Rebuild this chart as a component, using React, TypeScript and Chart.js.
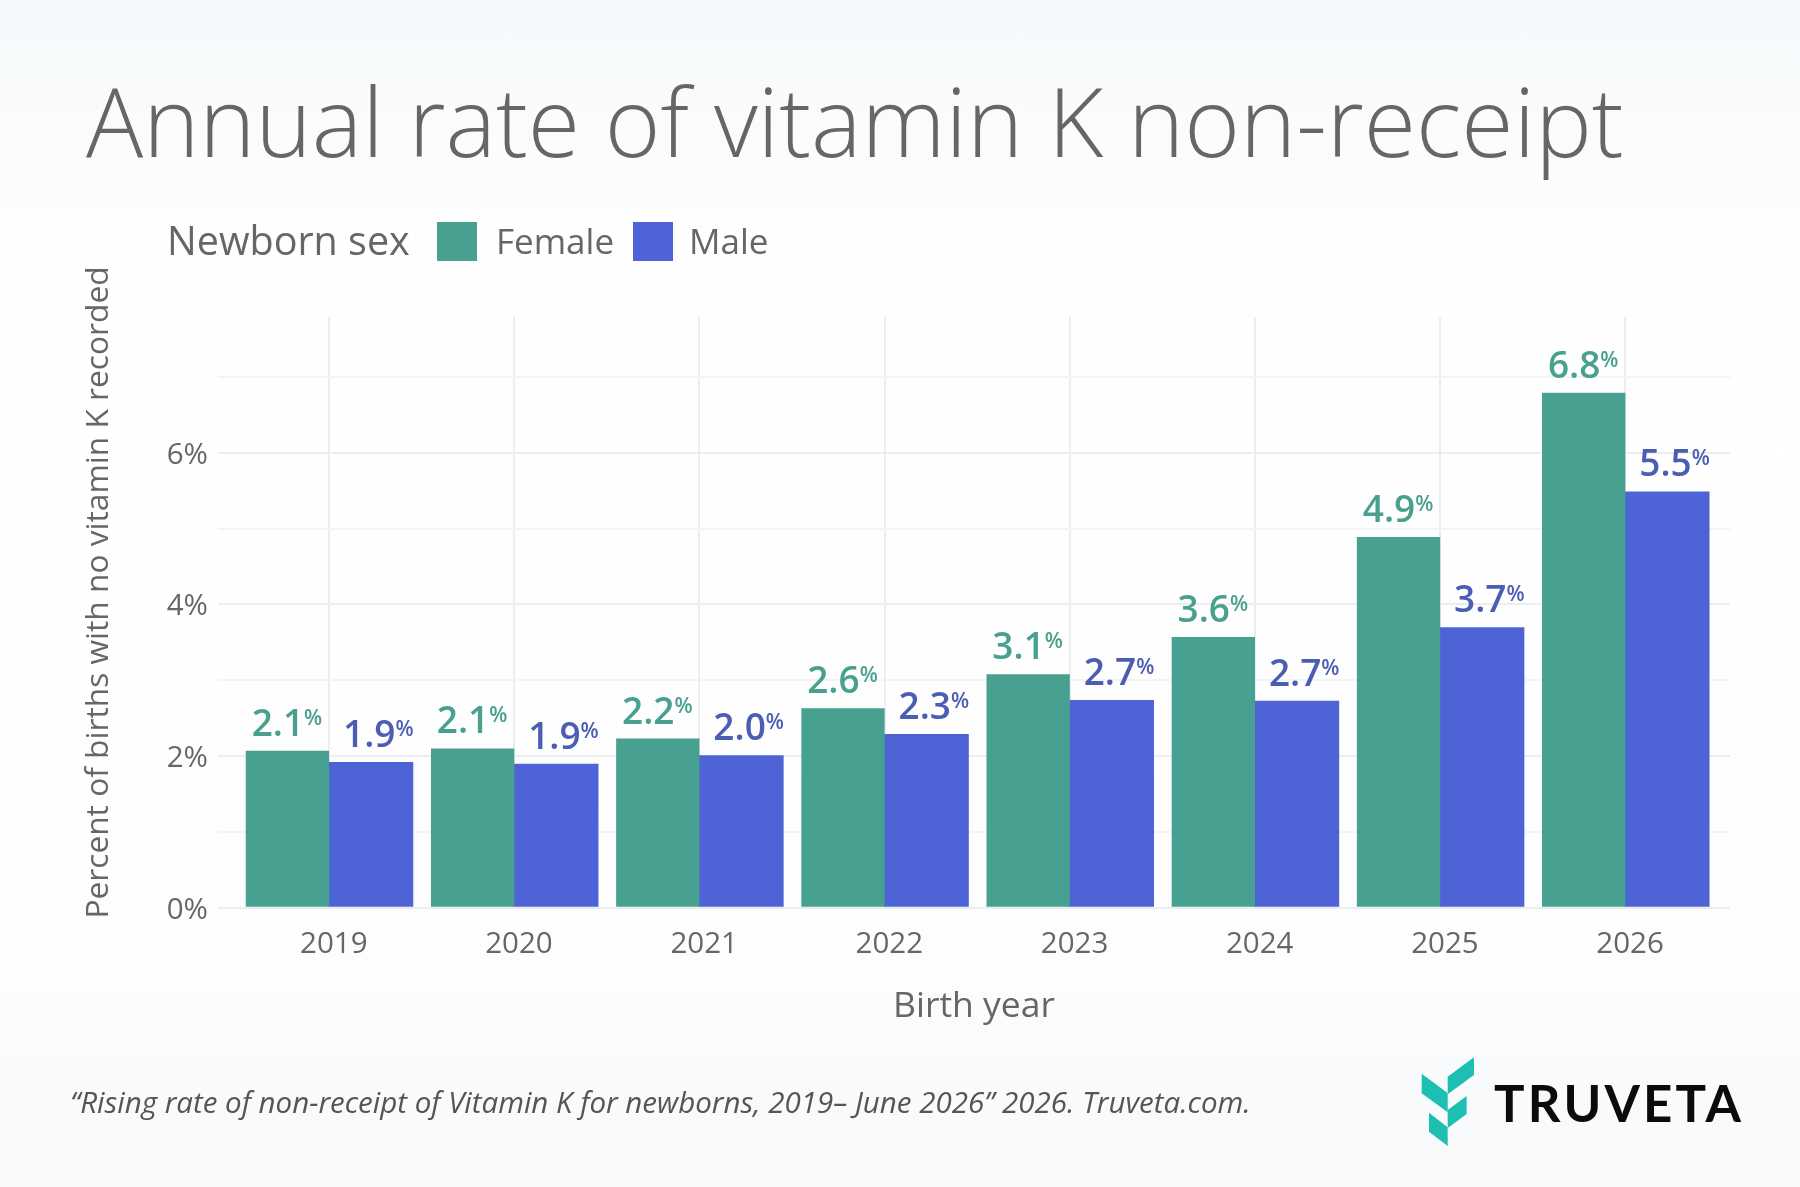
import { useEffect, useRef } from "react";
import { Chart, registerables } from "chart.js";

Chart.register(...registerables);

const years = [2019, 2020, 2021, 2022, 2023, 2024, 2025, 2026];
const female = [2.07, 2.1, 2.23, 2.63, 3.08, 3.57, 4.89, 6.79];
const male = [1.92, 1.9, 2.01, 2.29, 2.74, 2.73, 3.7, 5.49];

const seriesNames = ["Female", "Male"];
const barColors = ["#48a090", "#4e63d6"];
const labelColors = ["#48a08f", "#4c5db4"];
const labelShift = [-0.5, 7.5];

const titleText = "Annual rate of vitamin K non-receipt";
const yTitleText = "Percent of births with no vitamin K recorded";
const xTitleText = "Birth year";
const legendTitle = "Newborn sex";
const footerText = "\u201cRising rate of non-receipt of Vitamin K for newborns, 2019\u2013 June 2026\u201d 2026. Truveta.com.";

const FONT = '"Open Sans", sans-serif';
const GREY = "#666666";

const textPlugin = {
    id: "barText",
    afterDatasetsDraw(chart: any) {
        const ctx = chart.ctx;
        ctx.save();
        chart.data.datasets.forEach((ds: any, i: number) => {
            chart.getDatasetMeta(i).data.forEach((bar: any, j: number) => {
                const value = ds.data[j].y.toFixed(1);
                ctx.font = `600 37px ${FONT}`;
                const w1 = ctx.measureText(value).width;
                ctx.font = `600 21px ${FONT}`;
                const w2 = ctx.measureText("%").width;
                const left = bar.x + labelShift[i] - (w1 + w2) / 2;
                const base = bar.y - 15;
                ctx.fillStyle = labelColors[i];
                ctx.textAlign = "left";
                ctx.textBaseline = "alphabetic";
                ctx.font = `600 37px ${FONT}`;
                ctx.fillText(value, left, base);
                ctx.font = `600 21px ${FONT}`;
                ctx.fillText("%", left + w1, base - 11);
            });
        });
        // y title sits above the plot's centre in the original, so not the scale title
        ctx.translate(108, 592.5);
        ctx.rotate(-Math.PI / 2);
        ctx.font = `400 31.7px ${FONT}`;
        ctx.fillStyle = GREY;
        ctx.textAlign = "center";
        ctx.textBaseline = "alphabetic";
        ctx.fillText(yTitleText, 0, 0);
        ctx.restore();
    },
};

const Swatch = ({ left, color }: { left: number; color: string }) => (
    <div style={{ position: "absolute", left, top: 222, width: 39.5, height: 38.5, background: color }} />
);

const Label = ({ left, top, size, text, weight = 400, style = {} }: any) => (
    <div style={{ position: "absolute", left, top, fontFamily: FONT, fontSize: size, fontWeight: weight, color: GREY, lineHeight: 1, whiteSpace: "nowrap", ...style }}>
        {text}
    </div>
);

export default function App() {
    const canvasRef: any = useRef(null);

    useEffect(() => {
        document.body.style.margin = "0";
        const ctx = canvasRef.current.getContext("2d");
        const chart = new Chart(ctx, {
            type: "bar",
            data: {
                datasets: [
                    { label: seriesNames[0], data: years.map((x, i) => ({ x, y: female[i] })), backgroundColor: barColors[0], barPercentage: 1 },
                    { label: seriesNames[1], data: years.map((x, i) => ({ x, y: male[i] })), backgroundColor: barColors[1], barPercentage: 1.02 },
                ],
            },
            plugins: [textPlugin],
            options: {
                animation: false,
                responsive: false,
                devicePixelRatio: 1,
                layout: { padding: { left: 0, right: 70, top: 317, bottom: 159.3 } },
                datasets: { bar: { categoryPercentage: 0.9 } },
                plugins: { legend: { display: false }, title: { display: false }, tooltip: { enabled: false } },
                scales: {
                    x: {
                        type: "linear",
                        offset: false,
                        min: 2018.4,
                        max: 2026.565,
                        afterFit: (s: any) => { s.height = 120; },
                        border: { display: false },
                        grid: { offset: false, color: "#ecedf0", lineWidth: 2, drawTicks: false },
                        ticks: {
                            stepSize: 1,
                            includeBounds: false,
                            labelOffset: 4.7,
                            maxRotation: 0,
                            padding: 19,
                            color: GREY,
                            font: { family: FONT, size: 29.5 },
                            callback: (v: any) => String(v),
                        },
                        title: { display: true, text: xTitleText, color: GREY, font: { family: FONT, size: 35.5 }, padding: { top: 11, bottom: 0 } },
                    },
                    y: {
                        min: 0,
                        max: 7.79,
                        afterFit: (s: any) => { s.width = 218; },
                        border: { display: false },
                        grid: {
                            color: (c: any) => (c.tick.value % 2 === 0 ? "#ecedf0" : "#f3f4f6"),
                            lineWidth: 2,
                            drawTicks: false,
                        },
                        ticks: {
                            stepSize: 1,
                            includeBounds: false,
                            labelOffset: 2.5,
                            padding: 10,
                            color: GREY,
                            font: { family: FONT, size: 29.5 },
                            callback: (v: any) => (v % 2 === 0 ? `${v}%` : ""),
                        },
                    },
                },
            },
        } as any);

        return () => {
            chart.destroy();
        };
    }, []);

    return (
        <div
            style={{
                position: "absolute",
                left: 0,
                top: 0,
                width: 1800,
                height: 1187,
                overflow: "hidden",
                background:
                    "linear-gradient(#f6f9fb 0px, #fcfdfe 213px, #fefefe 213px, #ffffff 450px, #fdfdfe 992px, #fbfcfd 992px, #f7f9fb 1187px)",
            }}
        >
            <canvas ref={canvasRef} width={1800} height={1187} style={{ position: "absolute", left: 0, top: 0 }} />
            <Label left={86} top={73} size={95.2} weight={300} text={titleText} />
            <Label left={167} top={221} size={39.5} text={legendTitle} />
            <Swatch left={437} color={barColors[0]} />
            <Label left={496} top={223} size={35} text={seriesNames[0]} />
            <Swatch left={633} color={barColors[1]} />
            <Label left={689} top={223} size={35} text={seriesNames[1]} />
            <Label left={70} top={1087} size={29.5} text={footerText} style={{ fontStyle: "italic", color: "#555555" }} />
            <svg width={1800} height={1187} style={{ position: "absolute", left: 0, top: 0 }}>
                <g fill="#1dbfb3" transform="translate(1350 1030) scale(0.3333)">
                    <polygon points="293,140 372,82 372,135 293,193" />
                    <polygon points="215,131 293,189 293,247 215,190" />
                    <polygon points="293,240 350,198 350,252 293,294" />
                    <polygon points="237,248 293,292 293,348 237,305" />
                </g>
                <text x={1494} y={1122} textLength={247} lengthAdjust="spacing" fill="#0b0b0e" style={{ fontFamily: "Lato", fontWeight: 700, fontSize: 51 }}>
                    TRUVETA
                </text>
            </svg>
        </div>
    );
}
